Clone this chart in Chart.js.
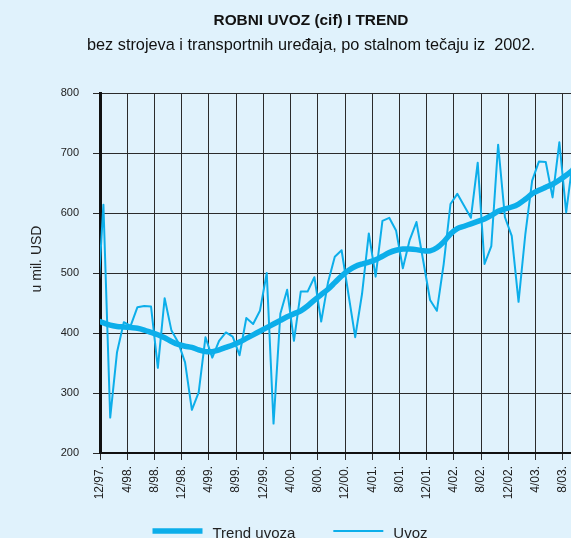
<!DOCTYPE html>
<html>
<head>
<meta charset="utf-8">
<script src="https://cdn.jsdelivr.net/npm/chart.js@4/dist/chart.umd.min.js"></script>
<style>
  html, body { margin: 0; padding: 0; background: #e0f2fc; overflow: hidden; }
  #wrap { width: 571px; height: 538px; overflow: hidden; }
  canvas { display: block; }
</style>
</head>
<body>
<div id="wrap"><canvas id="uvozChart" width="622" height="560"></canvas></div>
<script>
// monthly values, 11/97 - 9/03, in mil. USD
const months = [
  '11/97.', '12/97.',
  '1/98.', '2/98.', '3/98.', '4/98.', '5/98.', '6/98.', '7/98.', '8/98.', '9/98.', '10/98.', '11/98.', '12/98.',
  '1/99.', '2/99.', '3/99.', '4/99.', '5/99.', '6/99.', '7/99.', '8/99.', '9/99.', '10/99.', '11/99.', '12/99.',
  '1/00.', '2/00.', '3/00.', '4/00.', '5/00.', '6/00.', '7/00.', '8/00.', '9/00.', '10/00.', '11/00.', '12/00.',
  '1/01.', '2/01.', '3/01.', '4/01.', '5/01.', '6/01.', '7/01.', '8/01.', '9/01.', '10/01.', '11/01.', '12/01.',
  '1/02.', '2/02.', '3/02.', '4/02.', '5/02.', '6/02.', '7/02.', '8/02.', '9/02.', '10/02.', '11/02.', '12/02.',
  '1/03.', '2/03.', '3/03.', '4/03.', '5/03.', '6/03.', '7/03.', '8/03.', '9/03.'
];

const uvoz = [
  420, 614,
  259, 368, 418, 412, 443, 445, 444, 342, 458, 404, 384, 351,
  272, 301, 393, 359, 387, 401, 394, 363, 425, 415, 437, 500,
  249, 432, 472, 387, 469, 469, 493, 419, 484, 527, 538, 465,
  393, 465, 566, 494, 587, 592, 571, 508, 555, 585, 520, 455,
  437, 515, 615, 632, 612, 592, 684, 515, 545, 714, 593, 562,
  452, 565, 654, 686, 685, 626, 718, 601, 690
];

const trendUvoza = [
  421, 417,
  413, 411, 410, 409, 408, 405, 401, 397, 392, 386, 381, 378,
  376, 372, 369, 369, 372, 376, 380, 385, 391, 397, 403, 409,
  415, 421, 427, 432, 437, 445, 455, 464, 473, 484, 495, 504,
  511, 515, 518, 522, 528, 534, 538, 540, 540, 539, 537, 537,
  542, 552, 565, 574, 578, 582, 586, 590, 596, 603, 607, 610,
  615, 623, 632, 638, 643, 648, 655, 663, 672
];

const yTicks = [200, 300, 400, 500, 600, 700, 800];

const FONT = "'Liberation Sans', Arial, Helvetica, sans-serif";
const BLUE = '#0caeea';
const GRID = '#2b2b2b';

// x runs in months from the start of 12/97; each value sits mid-month
const toPoints = (values) => values.map((v, i) => ({ x: i - 0.5, y: v }));

// unit label beside the value axis, a little above the axis middle
const unitLabel = {
  id: 'unitLabel',
  afterDraw(chart, args, opts) {
    const ctx = chart.ctx;
    ctx.save();
    ctx.translate(opts.x, opts.y);
    ctx.rotate(-Math.PI / 2);
    ctx.font = opts.font;
    ctx.fillStyle = opts.color;
    ctx.textAlign = 'center';
    ctx.textBaseline = 'middle';
    ctx.fillText(opts.text, 0, 0);
    ctx.restore();
  }
};

// legend drawn as line samples under the axis labels
const lineLegend = {
  id: 'lineLegend',
  afterDraw(chart, args, opts) {
    const ctx = chart.ctx;
    ctx.save();
    ctx.font = opts.font;
    const items = chart.data.datasets.map(ds => ({
      ds,
      w: opts.lineLength + opts.gap + ctx.measureText(ds.label).width
    }));
    const total = items.reduce((s, it) => s + it.w, 0) + opts.spacing * (items.length - 1);
    let x = opts.centerX - total / 2;
    items.forEach(({ ds, w }) => {
      ctx.strokeStyle = ds.borderColor;
      ctx.lineWidth = ds.borderWidth;
      ctx.beginPath();
      ctx.moveTo(x, opts.y);
      ctx.lineTo(x + opts.lineLength, opts.y);
      ctx.stroke();
      ctx.fillStyle = opts.color;
      ctx.textBaseline = 'alphabetic';
      ctx.fillText(ds.label, x + opts.lineLength + opts.gap, opts.y + 7);
      x += w + opts.spacing;
    });
    ctx.restore();
  }
};

const ctx = document.getElementById('uvozChart').getContext('2d');
new Chart(ctx, {
  type: 'line',
  data: {
    datasets: [
      {
        label: 'Trend uvoza',
        data: toPoints(trendUvoza),
        borderColor: BLUE,
        borderWidth: 5.5,
        pointRadius: 0,
        tension: 0.3,
        clip: 0
      },
      {
        label: 'Uvoz',
        data: toPoints(uvoz),
        borderColor: BLUE,
        borderWidth: 2,
        borderJoinStyle: 'round',
        pointRadius: 0,
        tension: 0,
        clip: 0
      }
    ]
  },
  options: {
    responsive: false,
    animation: false,
    devicePixelRatio: 1,
    // left/right padding keeps the titles centred on the full page width
    layout: { padding: { left: 32, right: 32, top: 0, bottom: 27 } },
    scales: {
      x: {
        type: 'linear',
        min: 0,
        max: 72,
        afterFit: (scale) => { scale.height = 80; },
        border: { display: true, color: '#111', width: 2 },
        grid: { color: GRID, lineWidth: 1, tickLength: 7, tickColor: GRID },
        ticks: {
          stepSize: 4,
          autoSkip: false,
          minRotation: 90,
          maxRotation: 90,
          padding: 6,
          color: '#222',
          font: { family: FONT, size: 12 },
          callback: (value) => months[value + 1] ?? ''
        }
      },
      y: {
        min: 200,
        max: 800,
        afterFit: (scale) => { scale.width = 68; },
        afterBuildTicks: (scale) => { scale.ticks = yTicks.map(v => ({ value: v })); },
        border: { display: true, color: '#111', width: 3 },
        grid: { color: GRID, lineWidth: 1, tickLength: 7, tickColor: GRID },
        ticks: {
          padding: 14,
          color: '#222',
          font: { family: FONT, size: 11 }
        }
      }
    },
    plugins: {
      title: {
        display: true,
        text: 'ROBNI UVOZ (cif) I TREND',
        color: '#111',
        font: { family: FONT, size: 15.4, weight: 'bold' },
        padding: { top: 12, bottom: 5 }
      },
      subtitle: {
        display: true,
        text: 'bez strojeva i transportnih uređaja, po stalnom tečaju iz  2002.',
        color: '#111',
        font: { family: FONT, size: 16.3 },
        padding: { top: 0, bottom: 38 }
      },
      legend: { display: false },
      tooltip: { enabled: false },
      unitLabel: {
        text: 'u mil. USD',
        font: `14px ${FONT}`,
        color: '#222',
        x: 37,
        y: 259
      },
      lineLegend: {
        font: `15px ${FONT}`,
        color: '#222',
        centerX: 290,
        y: 531,
        lineLength: 50,
        gap: 10,
        spacing: 38
      }
    }
  },
  plugins: [unitLabel, lineLegend]
});
</script>
</body>
</html>
